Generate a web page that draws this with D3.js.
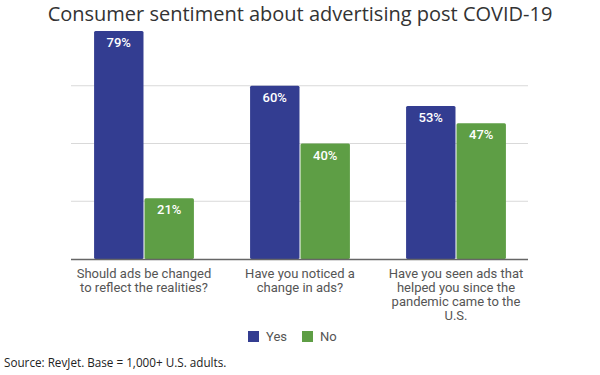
<!DOCTYPE html>
<html><head><meta charset="utf-8">
<script src="https://cdn.jsdelivr.net/npm/d3@7"></script>
<style>body{margin:0;background:#fff}svg{display:block}</style>
</head><body>
<svg id="c" width="600" height="375"></svg>
<script>
const categories = [
  ["Should ads be changed","to reflect the realities?"],
  ["Have you noticed a","change in ads?"],
  ["Have you seen ads that","helped you since the","pandemic came to the","U.S."]
];
const seriesNames = ["Yes","No"];
const yesValues = [79, 60, 53];
const noValues = [21, 40, 47];
const yTicks = [0, 20, 40, 60];
const colors = {Yes:"#333d91", No:"#5e9e45"};

const svg = d3.select("#c");
const x0 = d3.scaleBand().domain([0,1,2]).range([66, 534]).paddingInner(0.36).paddingOuter(0.18);
const x1 = d3.scaleBand().domain(seriesNames).range([0, x0.bandwidth()]).paddingInner(0.02);
const y = d3.scaleLinear().domain([0, 80]).range([259, 28]);

svg.append("text").attr("x", 300).attr("y", 21).attr("text-anchor","middle")
  .attr("font-family","'Open Sans'").attr("font-size", 20).attr("fill","#333")
  .text("Consumer sentiment about advertising post COVID-19");

svg.append("g").selectAll("line").data(yTicks.filter(d=>d>0)).join("line")
  .attr("x1", 71).attr("x2", 528).attr("y1", d=>y(d)).attr("y2", d=>y(d))
  .attr("stroke","#d9d9d9").attr("stroke-width",1);

const data = categories.map((c,i)=>({i, vals:[{k:"Yes",v:yesValues[i]},{k:"No",v:noValues[i]}]}));
const g = svg.append("g").selectAll("g").data(data).join("g")
  .attr("transform", d=>`translate(${x0(d.i)},0)`);
g.selectAll("rect").data(d=>d.vals).join("rect")
  .attr("x", d=>x1(d.k)).attr("width", x1.bandwidth())
  .attr("y", d=>y(d.v)).attr("height", d=>y(0)-y(d.v))
  .attr("rx", 1.5).attr("fill", d=>colors[d.k]);
g.selectAll("text").data(d=>d.vals).join("text")
  .attr("x", d=>x1(d.k)+x1.bandwidth()/2).attr("y", d=>y(d.v)+16)
  .attr("text-anchor","middle").attr("font-family","Roboto").attr("font-weight",500)
  .attr("font-size", 13).attr("fill","#fff").text(d=>d.v+"%");

svg.append("line").attr("x1",71).attr("x2",528).attr("y1",y(0)+0.5).attr("y2",y(0)+0.5)
  .attr("stroke","#666").attr("stroke-width",1.5);

const lab = svg.append("g").selectAll("text").data(categories).join("text")
  .attr("text-anchor","middle").attr("font-family","Roboto").attr("font-size",13).attr("fill","#555");
lab.each(function(lines,i){
  d3.select(this).selectAll("tspan").data(lines).join("tspan")
    .attr("x", x0(i)+x0.bandwidth()/2).attr("y",(d,j)=>277.5+j*14.3).text(d=>d);
});

const leg = svg.append("g");
const legX = [248, 302];
seriesNames.forEach((s,i)=>{
  leg.append("rect").attr("x",legX[i]).attr("y",331).attr("width",11).attr("height",11).attr("fill",colors[s]);
  leg.append("text").attr("x",legX[i]+18).attr("y",341).attr("font-family","Roboto").attr("font-size",13)
    .attr("fill","#555").text(s);
});

svg.append("text").attr("x",4).attr("y",367).attr("font-family","'Open Sans'").attr("font-size",11.7)
  .attr("fill","#222").text("Source: RevJet. Base = 1,000+ U.S. adults.");
</script>
</body></html>
